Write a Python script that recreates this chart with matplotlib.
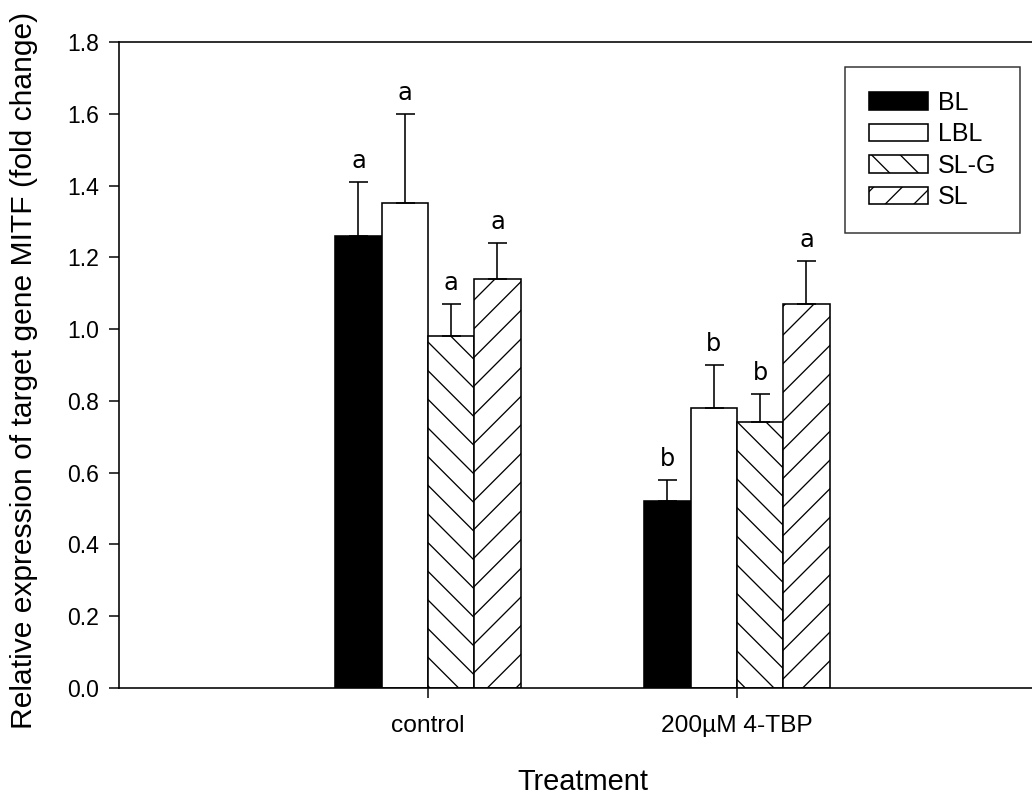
import numpy as np
import matplotlib
matplotlib.use("Agg")
import matplotlib.pyplot as plt

# Relative MITF expression (fold change) per light treatment
treatments = ["control", "200\u00b5M 4-TBP"]
series = ["BL", "LBL", "SL-G", "SL"]
means = {
    "BL":   [1.26, 0.52],
    "LBL":  [1.35, 0.78],
    "SL-G": [0.98, 0.74],
    "SL":   [1.14, 1.07],
}
errors = {
    "BL":   [0.15, 0.06],
    "LBL":  [0.25, 0.12],
    "SL-G": [0.09, 0.08],
    "SL":   [0.10, 0.12],
}
letters = {
    "BL":   ["a", "b"],
    "LBL":  ["a", "b"],
    "SL-G": ["a", "b"],
    "SL":   ["a", "a"],
}
yticks = [0.0, 0.2, 0.4, 0.6, 0.8, 1.0, 1.2, 1.4, 1.6, 1.8]

styles = {
    "BL":   dict(facecolor="black", hatch=None),
    "LBL":  dict(facecolor="white", hatch=None),
    "SL-G": dict(facecolor="white", hatch="\\\\"),
    "SL":   dict(facecolor="white", hatch="//"),
}

DPI = 172
def px(v):
    return v * 72.0 / DPI

plt.rcParams["font.family"] = ["Liberation Sans", "DejaVu Sans"]
plt.rcParams["hatch.linewidth"] = px(1.3)
plt.rcParams["hatch.color"] = "black"

fig = plt.figure(figsize=(1032 / DPI, 796 / DPI), dpi=DPI)
ax = fig.add_axes([119 / 1032, 108 / 796, (1032 - 119) / 1032, (688 - 42) / 796])

x = np.arange(len(treatments))
width = 0.15
offsets = [-1.5 * width, -0.5 * width, 0.5 * width, 1.5 * width]

for name, off in zip(series, offsets):
    st = styles[name]
    pos = x + off
    ax.bar(pos, means[name], width, facecolor=st["facecolor"], hatch=st["hatch"],
           edgecolor="black", linewidth=px(1.6), label=name, zorder=2)
    lower = np.zeros(len(treatments))
    ax.errorbar(pos, means[name], yerr=[lower, errors[name]], fmt="none",
                ecolor="black", elinewidth=px(1.6), capsize=px(9.5),
                capthick=px(1.6), zorder=3)
    for xi, m, e, lab in zip(pos, means[name], errors[name], letters[name]):
        ax.annotate(lab, (xi, m + e), xytext=(0, px(14)), textcoords="offset points",
                    ha="center", va="baseline", fontsize=px(24),
                    family="DejaVu Sans")

ax.set_xlim(-1.0, 1.955)
ax.set_ylim(0, 1.8)
ax.set_yticks(yticks)
ax.set_yticklabels([f"{v:.1f}" for v in yticks])
ax.set_xticks(x)
ax.set_xticklabels(treatments)

for s in ["left", "bottom", "top"]:
    ax.spines[s].set_linewidth(px(1.6))
ax.spines["right"].set_visible(False)

ax.tick_params(axis="y", direction="out", length=px(10), width=px(1.5),
               pad=px(10), labelsize=px(23))
ax.tick_params(axis="x", direction="out", length=px(10), width=px(1.5),
               pad=px(17), labelsize=px(24.5))

ax.set_ylabel("Relative expression of target gene MITF (fold change)",
              fontsize=px(30))
ax.yaxis.set_label_coords(-(119 - 38) / 913, (688 - 370) / 646)
ax.set_xlabel("Treatment", fontsize=px(29))
ax.xaxis.set_label_coords((583 - 119) / 913, -(790 - 688) / 646)
ax.xaxis.label.set_va("baseline")

leg = ax.legend(loc="upper right", bbox_to_anchor=(1020 / 1032, 1 - 67 / 796),
                bbox_transform=fig.transFigure, borderaxespad=0,
                fontsize=px(25), frameon=True, fancybox=False, shadow=False,
                handlelength=2.35, handleheight=0.72, handletextpad=0.4,
                labelspacing=0.3, borderpad=0.95)
leg.get_frame().set_edgecolor("black")
leg.get_frame().set_linewidth(px(1.5))

fig.savefig("out.png", dpi=DPI)
